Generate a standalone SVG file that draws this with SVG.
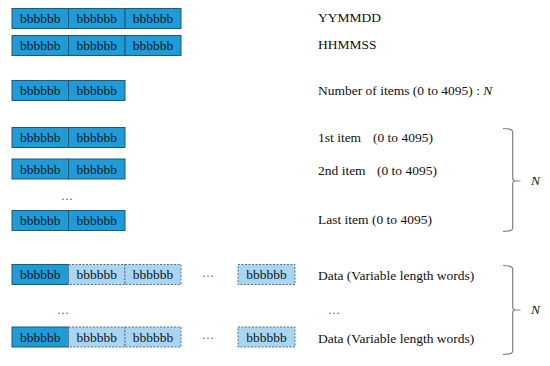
<svg xmlns="http://www.w3.org/2000/svg" width="550" height="366" viewBox="0 0 550 366">
<style>
.d{fill:#1f9bd7;stroke:#1d5a78;stroke-width:1}
.l{fill:#a9d5f1;stroke:#5a7184;stroke-width:1;stroke-dasharray:2,1.5}
.bt{font-family:"Liberation Serif",serif;font-size:13.5px;fill:#0c1a26;text-anchor:middle}
.t{font-family:"Liberation Serif",serif;font-size:13.5px;fill:#111}
.dots{font-family:"Liberation Serif",serif;font-size:12px;fill:#555;text-anchor:middle}
.br{fill:none;stroke:#808080;stroke-width:1.2}
.n{font-family:"Liberation Serif",serif;font-size:13.5px;font-style:italic;fill:#111}
</style>
<rect width="550" height="366" fill="#fff"/>
<g id="row-date">
<rect class="d" x="12" y="8.5" width="56.5" height="20"/><rect class="d" x="68.5" y="8.5" width="56.5" height="20"/><rect class="d" x="125" y="8.5" width="56" height="20"/>
<text class="bt" x="40.2" y="23">bbbbbb</text><text class="bt" x="96.7" y="23">bbbbbb</text><text class="bt" x="153" y="23">bbbbbb</text>
<text class="t" x="318" y="22">YYMMDD</text>
</g>
<g id="row-time">
<rect class="d" x="12" y="35.5" width="56.5" height="20"/><rect class="d" x="68.5" y="35.5" width="56.5" height="20"/><rect class="d" x="125" y="35.5" width="56" height="20"/>
<text class="bt" x="40.2" y="50">bbbbbb</text><text class="bt" x="96.7" y="50">bbbbbb</text><text class="bt" x="153" y="50">bbbbbb</text>
<text class="t" x="318" y="49">HHMMSS</text>
</g>
<g id="row-count">
<rect class="d" x="12" y="80.5" width="56.5" height="20"/><rect class="d" x="68.5" y="80.5" width="56.5" height="20"/>
<text class="bt" x="40.2" y="95">bbbbbb</text><text class="bt" x="96.7" y="95">bbbbbb</text>
<text class="t" x="318" y="95">Number of items (0 to 4095) : <tspan font-style="italic">N</tspan></text>
</g>
<g id="item-1">
<rect class="d" x="12" y="127.5" width="56.5" height="20"/><rect class="d" x="68.5" y="127.5" width="56.5" height="20"/>
<text class="bt" x="40.2" y="142">bbbbbb</text><text class="bt" x="96.7" y="142">bbbbbb</text>
<text class="t" x="318" y="142">1st item</text><text class="t" x="373" y="142">(0 to 4095)</text>
</g>
<g id="item-2">
<rect class="d" x="12" y="159" width="56.5" height="20"/><rect class="d" x="68.5" y="159" width="56.5" height="20"/>
<text class="bt" x="40.2" y="173.5">bbbbbb</text><text class="bt" x="96.7" y="173.5">bbbbbb</text>
<text class="t" x="318" y="174.5">2nd item</text><text class="t" x="377" y="174.5">(0 to 4095)</text>
</g>
<text class="dots" x="67" y="200">…</text>
<g id="item-last">
<rect class="d" x="12" y="210.5" width="56.5" height="20"/><rect class="d" x="68.5" y="210.5" width="56.5" height="20"/>
<text class="bt" x="40.2" y="225">bbbbbb</text><text class="bt" x="96.7" y="225">bbbbbb</text>
<text class="t" x="318" y="224">Last item (0 to 4095)</text>
</g>
<g id="data-1">
<rect class="d" x="12" y="264.5" width="56.5" height="20"/><rect class="l" x="68.5" y="264.5" width="56.5" height="20"/><rect class="l" x="125" y="264.5" width="56" height="20"/><rect class="l" x="238" y="264.5" width="57" height="20"/>
<text class="bt" x="40.2" y="279">bbbbbb</text><text class="bt" x="96.7" y="279">bbbbbb</text><text class="bt" x="153" y="279">bbbbbb</text><text class="bt" x="266.5" y="279">bbbbbb</text>
<text class="dots" x="208" y="277">…</text>
<text class="t" x="318" y="280">Data (Variable length words)</text>
</g>
<text class="dots" x="63" y="314">…</text>
<text class="dots" x="334" y="314">…</text>
<g id="data-last">
<rect class="d" x="12" y="327" width="56.5" height="20"/><rect class="l" x="68.5" y="327" width="56.5" height="20"/><rect class="l" x="125" y="327" width="56" height="20"/><rect class="l" x="238" y="327" width="57" height="20"/>
<text class="bt" x="40.2" y="341.5">bbbbbb</text><text class="bt" x="96.7" y="341.5">bbbbbb</text><text class="bt" x="153" y="341.5">bbbbbb</text><text class="bt" x="266.5" y="341.5">bbbbbb</text>
<text class="dots" x="208" y="339">…</text>
<text class="t" x="318" y="343">Data (Variable length words)</text>
</g>
<g id="connectors">
<path class="br" d="M503,128.5 Q512.7,128.5 512.7,132 L512.7,178 Q512.7,181 515,181 L520.5,181 M515,181 Q512.7,181 512.7,184 L512.7,228 Q512.7,231.5 503,231.5"/>
<path class="br" d="M503,265.5 Q512.7,265.5 512.7,269 L512.7,307 Q512.7,310 515,310 L520.5,310 M515,310 Q512.7,310 512.7,313 L512.7,351 Q512.7,354.5 503,354.5"/>
</g>
<text class="n" x="531" y="185">N</text>
<text class="n" x="531" y="314">N</text>
</svg>
